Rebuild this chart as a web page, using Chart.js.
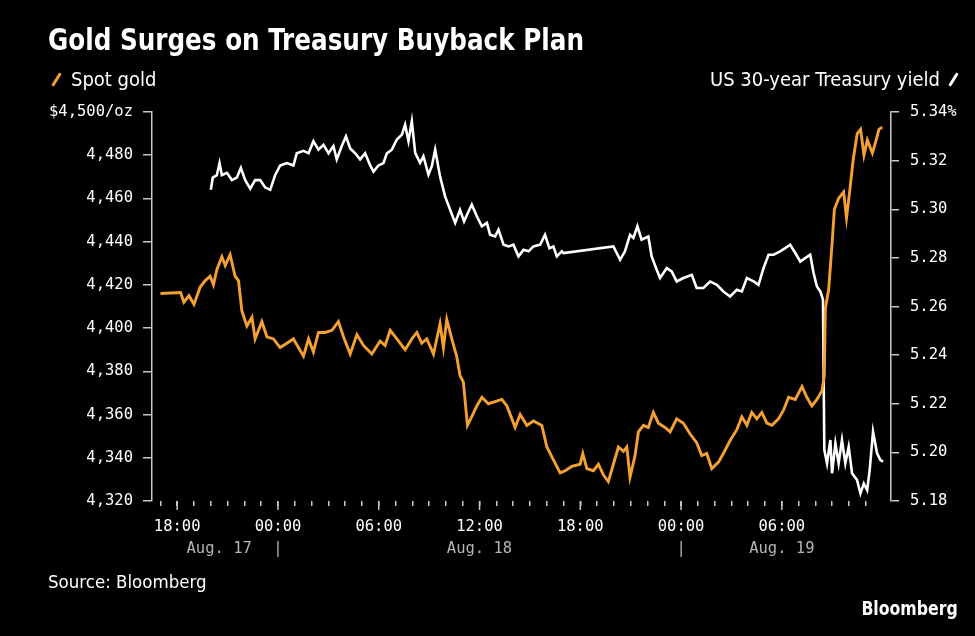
<!DOCTYPE html>
<html>
<head>
<meta charset="utf-8">
<script src="https://cdn.jsdelivr.net/npm/chart.js@4.4.0/dist/chart.umd.min.js"></script>
<style>
  html, body { margin: 0; padding: 0; background: #000; }
  #wrap { position: relative; width: 975px; height: 636px; background: #000; overflow: hidden; }
  #chartBox { position: absolute; left: 0; top: 0; width: 975px; height: 636px; }
  .txt { position: absolute; color: #fff; white-space: nowrap;
         font-family: "Liberation Sans Narrow", "DejaVu Sans Condensed", "Roboto Condensed", "Liberation Sans", sans-serif;
         font-stretch: condensed; }
  #title { left: 48px; top: 21px; font-size: 31px; font-weight: bold; transform: scaleX(0.885); transform-origin: left center; }
  #legGold { left: 50px; top: 67px; font-size: 20px; }
  #legYield { right: 16px; top: 67px; font-size: 20px; }
  #source { left: 48px; top: 571px; font-size: 18.5px; }
  #brand { right: 17px; top: 597px; font-size: 19px; font-weight: bold; transform: scaleX(0.92); transform-origin: right center; }
  .mark { display: inline-block; width: 3px; height: 15px; margin: 0 13px 0 5px;
          vertical-align: -1px; transform: rotate(32deg); border-radius: 1px; }
</style>
</head>
<body>
<div id="wrap">
  <div id="chartBox"><canvas id="chart"></canvas></div>
  <div class="txt" id="title">Gold Surges on Treasury Buyback Plan</div>
  <div class="txt" id="legGold"><span class="mark" style="background:#f5a033"></span>Spot gold</div>
  <div class="txt" id="legYield">US 30-year Treasury yield<span class="mark" style="background:#fff; margin:0 4px 0 12px"></span></div>
  <div class="txt" id="source">Source: Bloomberg</div>
  <div class="txt" id="brand">Bloomberg</div>
</div>
<script>
// hours counted from Aug. 17 00:00
const goldHours = [17.0, 18.2, 18.4, 18.7, 19.0, 19.37, 19.67, 19.96, 20.16, 20.36, 20.66, 20.86, 21.15, 21.45, 21.65, 21.85,
  22.15, 22.45, 22.64, 23.04, 23.34, 23.73, 24.13, 24.53, 24.92, 25.22, 25.52, 25.82, 26.11, 26.41, 26.81, 27.21, 27.6,
  27.9, 28.3, 28.7, 29.09, 29.59, 30.08, 30.38, 30.68, 31.08, 31.57, 31.97, 32.27, 32.56, 32.86, 33.26, 33.65, 33.85,
  34.05, 34.35, 34.64, 34.84, 35.04, 35.28, 35.54, 35.84, 36.14, 36.53, 36.93, 37.33, 37.63, 37.93, 38.12, 38.42, 38.82,
  39.21, 39.71, 40.01, 40.4, 40.8, 41.1, 41.49, 41.99, 42.15, 42.39, 42.78, 43.08, 43.38, 43.67, 43.97, 44.27, 44.57,
  44.77, 44.96, 45.26, 45.46, 45.76, 46.05, 46.35, 46.65, 47.05, 47.35, 47.74, 48.14, 48.54, 48.93, 49.23, 49.53, 49.83,
  50.23, 50.52, 50.92, 51.32, 51.62, 51.92, 52.21, 52.51, 52.81, 53.11, 53.41, 53.8, 54.1, 54.4, 54.8, 55.2, 55.49,
  55.79, 56.09, 56.39, 56.53, 56.59, 56.79, 56.99, 57.13, 57.38, 57.68, 57.85, 58.05, 58.25, 58.49, 58.69, 58.89, 59.09,
  59.39, 59.58, 59.78, 59.98];
const goldPrice = [4416, 4416.5, 4412, 4415, 4411, 4419, 4422, 4424, 4420, 4427, 4433, 4429, 4434, 4424, 4422, 4408,
  4401, 4405, 4395, 4403, 4396, 4395, 4391, 4393, 4395, 4391, 4387, 4395, 4389, 4398, 4398, 4399, 4403,
  4396, 4388, 4397, 4392, 4388, 4394, 4392, 4399, 4395, 4390, 4395, 4398, 4393, 4395, 4388, 4402, 4391,
  4404, 4395, 4387, 4378, 4375, 4355, 4359, 4364, 4368, 4365, 4366, 4367, 4364, 4358, 4354, 4360, 4355,
  4357, 4355, 4345, 4339, 4333, 4334, 4336, 4337, 4342, 4335, 4334, 4337, 4332, 4329, 4337, 4345, 4343,
  4345, 4331, 4341, 4352, 4355, 4354, 4361, 4356, 4354, 4352, 4358, 4356, 4351, 4347, 4341, 4342, 4335,
  4338, 4342, 4348, 4353, 4359, 4355, 4361, 4358, 4361, 4356, 4355, 4358, 4362, 4368, 4367, 4373, 4368,
  4364, 4367, 4371, 4378, 4409, 4418, 4439, 4455, 4460, 4463, 4451, 4464, 4478, 4490, 4492, 4480, 4487,
  4481, 4486, 4492, 4493];

const yieldHours = [20.0, 20.12, 20.36, 20.52, 20.66, 20.96, 21.26, 21.55, 21.79, 22.05, 22.35, 22.64, 22.94, 23.24, 23.54,
  23.83, 24.13, 24.53, 24.92, 25.12, 25.52, 25.82, 26.11, 26.41, 26.71, 27.01, 27.3, 27.5, 27.8, 28.05, 28.3, 28.6,
  28.89, 29.19, 29.49, 29.69, 29.98, 30.28, 30.48, 30.78, 31.08, 31.38, 31.57, 31.77, 31.97, 32.17, 32.46, 32.66, 32.96,
  33.16, 33.36, 33.65, 33.95, 34.25, 34.55, 34.84, 35.08, 35.34, 35.54, 35.84, 36.14, 36.44, 36.63, 36.93, 37.13, 37.43,
  37.73, 38.02, 38.32, 38.62, 38.92, 39.21, 39.61, 39.9, 40.16, 40.4, 40.6, 40.9, 41.0, 43.97, 44.17, 44.37, 44.66,
  44.96, 45.16, 45.4, 45.65, 46.05, 46.25, 46.55, 46.75, 47.15, 47.44, 47.74, 48.14, 48.64, 48.93, 49.33, 49.73, 50.13,
  50.52, 50.92, 51.32, 51.62, 51.92, 52.32, 52.61, 52.91, 53.21, 53.51, 53.9, 54.2, 54.5, 54.8, 55.1, 55.39, 55.69,
  55.89, 56.09, 56.29, 56.45, 56.53, 56.69, 56.89, 56.99, 57.19, 57.38, 57.58, 57.78, 57.98, 58.18, 58.48, 58.68, 58.88,
  59.08, 59.23, 59.43, 59.67, 59.87, 60.03];
const yieldValues = [5.308, 5.313, 5.314, 5.319, 5.314, 5.315, 5.312, 5.313, 5.317, 5.312, 5.3085, 5.312, 5.312, 5.309, 5.308,
  5.314, 5.318, 5.319, 5.318, 5.323, 5.324, 5.323, 5.328, 5.3245, 5.3265, 5.323, 5.326, 5.3205, 5.326, 5.330, 5.325, 5.323,
  5.3205, 5.323, 5.318, 5.3155, 5.318, 5.319, 5.323, 5.3245, 5.3287, 5.3307, 5.3348, 5.328, 5.3362, 5.3232, 5.3191, 5.3218, 5.3142,
  5.3177, 5.3245, 5.3135, 5.3053, 5.2998, 5.2944, 5.2998, 5.295, 5.2991, 5.3019, 5.2971, 5.293, 5.2944, 5.2895, 5.2888, 5.2916, 5.2854,
  5.2847, 5.2854, 5.2806, 5.2833, 5.2827, 5.2847, 5.2854, 5.2895, 5.284, 5.2847, 5.2806, 5.2827, 5.282, 5.2847, 5.282, 5.2792, 5.2827,
  5.2895, 5.2882, 5.293, 5.2875, 5.2888, 5.2806, 5.2751, 5.2717, 5.2758, 5.2744, 5.2703, 5.2717, 5.273, 5.2676, 5.2676, 5.2703, 5.2689,
  5.2662, 5.2641, 5.2669, 5.2662, 5.2717, 5.2703, 5.2689, 5.2758, 5.2813, 5.2813, 5.2827, 5.284, 5.2854, 5.282, 5.2785, 5.2799, 5.2813,
  5.2738, 5.2682, 5.2662, 5.2628, 5.201, 5.1955, 5.2051, 5.1914, 5.2037, 5.1955, 5.2051, 5.1955, 5.2023, 5.1914, 5.1886, 5.1831, 5.1872,
  5.1845, 5.1927, 5.2085, 5.1996, 5.1968, 5.1962];

// x axis labels
const labelHours = [18, 24, 30, 36, 42, 48, 54];
const timeLabels = ['18:00', '00:00', '06:00', '12:00', '18:00', '00:00', '06:00'];
const dayHours = [20.5, 24, 36, 48, 54];
const dayLabels = ['Aug. 17', '|', 'Aug. 18', '|', 'Aug. 19'];

const tickFont = { family: '"DejaVu Sans Mono", "Liberation Mono", monospace', size: 15.5 };
const axisGrey = '#c8c8c8';

// longer marks under the labelled hours
const majorTicks = {
    id: 'majorTicks',
    afterDraw(chart) {
        const x = chart.scales.x;
        const ctx = chart.ctx;
        const b = chart.chartArea.bottom;
        ctx.save();
        ctx.strokeStyle = axisGrey;
        ctx.lineWidth = 1.5;
        labelHours.forEach(h => {
            const px = x.getPixelForValue(h);
            ctx.beginPath();
            ctx.moveTo(px, b);
            ctx.lineTo(px, b + 9);
            ctx.stroke();
        });
        ctx.restore();
    }
};

new Chart(document.getElementById('chart'), {
    type: 'line',
    data: {
        datasets: [{
            label: 'Spot gold',
            data: goldHours.map((h, i) => ({ x: h, y: goldPrice[i] })),
            borderColor: '#f5a033',
            borderWidth: 2.9,
            pointRadius: 0,
            tension: 0,
            yAxisID: 'y',
            order: 1
        }, {
            label: 'US 30-year Treasury yield',
            data: yieldHours.map((h, i) => ({ x: h, y: yieldValues[i] })),
            borderColor: '#ffffff',
            borderWidth: 2.6,
            pointRadius: 0,
            tension: 0,
            yAxisID: 'y1',
            order: 2
        }]
    },
    options: {
        responsive: true,
        maintainAspectRatio: false,
        animation: false,
        layout: { padding: { top: 112, left: 0, right: 0, bottom: 72 } },
        plugins: { legend: { display: false }, tooltip: { enabled: false } },
        scales: {
            x: {
                type: 'linear',
                min: 16.5,
                max: 60.5,
                weight: 0,
                afterBuildTicks: (scale) => {
                    const t = [];
                    for (let h = 17; h <= 59; h++) t.push({ value: h });
                    scale.ticks = t;
                },
                afterFit: (scale) => { scale.height = 33; },
                grid: { drawOnChartArea: false, drawTicks: true, tickLength: 5, color: axisGrey, lineWidth: 1.5 },
                border: { display: false },
                ticks: {
                    autoSkip: false,
                    maxRotation: 0,
                    padding: 12,
                    color: '#ffffff',
                    font: tickFont,
                    callback: (v) => {
                        const i = labelHours.indexOf(v);
                        return i >= 0 ? timeLabels[i] : '';
                    }
                }
            },
            x2: {
                type: 'linear',
                position: 'bottom',
                min: 16.5,
                max: 60.5,
                weight: 1,
                afterBuildTicks: (scale) => { scale.ticks = dayHours.map(v => ({ value: v })); },
                afterFit: (scale) => { scale.height = 30; },
                grid: { display: false },
                border: { display: false },
                ticks: {
                    autoSkip: false,
                    maxRotation: 0,
                    padding: -2,
                    color: '#b4b4b4',
                    font: tickFont,
                    callback: (v) => dayLabels[dayHours.indexOf(v)]
                }
            },
            y: {
                position: 'left',
                min: 4320,
                max: 4500,
                afterFit: (scale) => { scale.width = 152; },
                grid: { drawOnChartArea: false, drawTicks: true, tickLength: 9, color: axisGrey, lineWidth: 1.5 },
                border: { display: true, color: axisGrey, width: 1.5 },
                ticks: {
                    stepSize: 20,
                    padding: 10,
                    color: '#ffffff',
                    font: tickFont,
                    callback: (v) => v === 4500 ? '$4,500/oz' : v.toLocaleString('en-US')
                }
            },
            y1: {
                position: 'right',
                min: 5.18,
                max: 5.34,
                afterFit: (scale) => { scale.width = 84; },
                grid: { drawOnChartArea: false, drawTicks: true, tickLength: 8, color: axisGrey, lineWidth: 1.5 },
                border: { display: true, color: axisGrey, width: 1.5 },
                ticks: {
                    stepSize: 0.02,
                    padding: 11,
                    color: '#ffffff',
                    font: tickFont,
                    callback: (v) => Math.abs(v - 5.34) < 1e-6 ? '5.34%' : v.toFixed(2)
                }
            }
        }
    },
    plugins: [majorTicks]
});
</script>
</body>
</html>
